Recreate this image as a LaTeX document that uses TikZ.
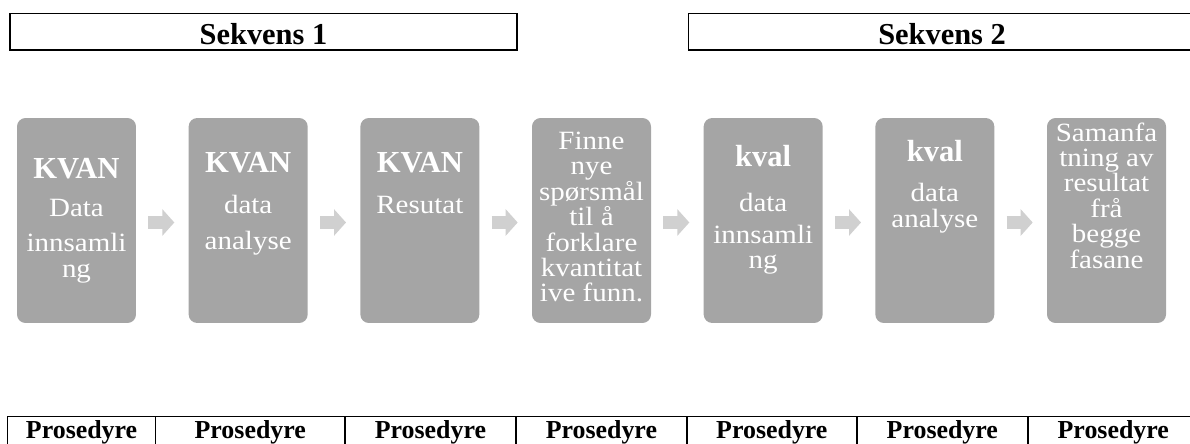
\documentclass[tikz,border=0pt]{standalone}
\usepackage{fontspec}
\setmainfont{Liberation Serif}
\newfontfamily\boksfont[FakeStretch=1.1]{Liberation Serif}
\usepackage{xcolor}
\usetikzlibrary{arrows.meta, positioning}

\definecolor{fasegra}{HTML}{A5A5A5}
\definecolor{pilgra}{HTML}{D0D0D0}
\newcommand{\hoved}[1]{{\normalfont\fontsize{17.4pt}{17.4pt}\selectfont\bfseries #1}}

\begin{document}
\begin{tikzpicture}[
x=0.02cm, y=-0.02cm,
node distance=1.04cm,
fase/.style={
fill=fasegra,
rounded corners=0.17cm,
minimum width=2.38cm,
minimum height=4.1cm,
inner sep=0
},
tekst/.style={
anchor=north,
inner sep=0,
align=center,
text=white,
font=\boksfont\fontsize{15pt}{14.46pt}\selectfont
},
pil/.style={
draw=pilgra,
line width=0.26cm,
-{Triangle[length=0.24cm, width=0.52cm]}
},
sekvens/.style={
draw,
line width=0.034cm,
minimum width=10.14cm,
minimum height=0.734cm,
text height=0.5cm,
text depth=0pt,
inner sep=0,
font=\fontsize{17.3pt}{17.3pt}\selectfont\bfseries
},
celle/.style={
draw,
line width=0.034cm,
minimum height=0.62cm,
text height=0.36cm,
text depth=0.12cm,
inner sep=0,
outer sep=0,
font=\fontsize{14.74pt}{14.74pt}\selectfont\bfseries
}
]

\useasboundingbox (0,0) rectangle (1190,443);
\clip (0,0) rectangle (1190,443);

\node[sekvens] (sek1) at (263.5,31.85) {Sekvens 1};
\node[sekvens, right=3.4cm of sek1] (sek2) {Sekvens 2};

\node[fase] (b1) at (76.5,220.5) {};
\node[fase, right=of b1] (b2) {};
\node[fase, right=of b2] (b3) {};
\node[fase, right=of b3] (b4) {};
\node[fase, right=of b4] (b5) {};
\node[fase, right=of b5] (b6) {};
\node[fase, right=of b6] (b7) {};

\node[tekst] (t1) at ([yshift=-0.8cm]b1.north)
{\hoved{KVAN}\\[0.25cm] Data\\[0.19cm] innsamli\\[0.03cm] ng};
\node[tekst] (t2) at ([yshift=-0.68cm]b2.north)
{\hoved{KVAN}\\[0.31cm] data\\[0.21cm] analyse};
\node[tekst] (t3) at ([yshift=-0.68cm]b3.north)
{\hoved{KVAN}\\[0.31cm] Resutat};
\node[tekst] (t4) at ([yshift=-0.28cm]b4.north)
{Finne\\ nye\\ spørsmål\\ til å\\ forklare\\ kvantitat\\ ive funn.};
\node[tekst] (t5) at ([yshift=-0.54cm]b5.north)
{\hoved{kval}\\[0.39cm] data\\[0.13cm] innsamli\\ ng};
\node[tekst] (t6) at ([yshift=-0.44cm]b6.north)
{\hoved{kval}\\[0.3cm] data\\ analyse};
\node[tekst] (t7) at ([yshift=-0.09cm]b7.north)
{Samanfa\\ tning av\\ resultat\\ frå\\ begge\\ fasane};

\draw[pil] ([xshift=0.24cm, yshift=-0.04cm]b1.east) -- ([xshift=-0.28cm, yshift=-0.04cm]b2.west);
\draw[pil] ([xshift=0.24cm, yshift=-0.04cm]b2.east) -- ([xshift=-0.28cm, yshift=-0.04cm]b3.west);
\draw[pil] ([xshift=0.24cm, yshift=-0.04cm]b3.east) -- ([xshift=-0.28cm, yshift=-0.04cm]b4.west);
\draw[pil] ([xshift=0.24cm, yshift=-0.04cm]b4.east) -- ([xshift=-0.28cm, yshift=-0.04cm]b5.west);
\draw[pil] ([xshift=0.24cm, yshift=-0.04cm]b5.east) -- ([xshift=-0.28cm, yshift=-0.04cm]b6.west);
\draw[pil] ([xshift=0.24cm, yshift=-0.04cm]b6.east) -- ([xshift=-0.28cm, yshift=-0.04cm]b7.west);

\node[celle, minimum width=2.96cm, anchor=north west] (c1) at (7.6,416.5) {Prosedyre};
\node[celle, minimum width=3.788cm, right=0cm of c1] (c2) {Prosedyre};
\node[celle, minimum width=3.42cm, right=0cm of c2] (c3) {Prosedyre};
\node[celle, minimum width=3.42cm, right=0cm of c3] (c4) {Prosedyre};
\node[celle, minimum width=3.4cm, right=0cm of c4] (c5) {Prosedyre};
\node[celle, minimum width=3.42cm, right=0cm of c5] (c6) {Prosedyre};
\node[celle, minimum width=3.42cm, right=0cm of c6] (c7) {Prosedyre};

\end{tikzpicture}
\end{document}
